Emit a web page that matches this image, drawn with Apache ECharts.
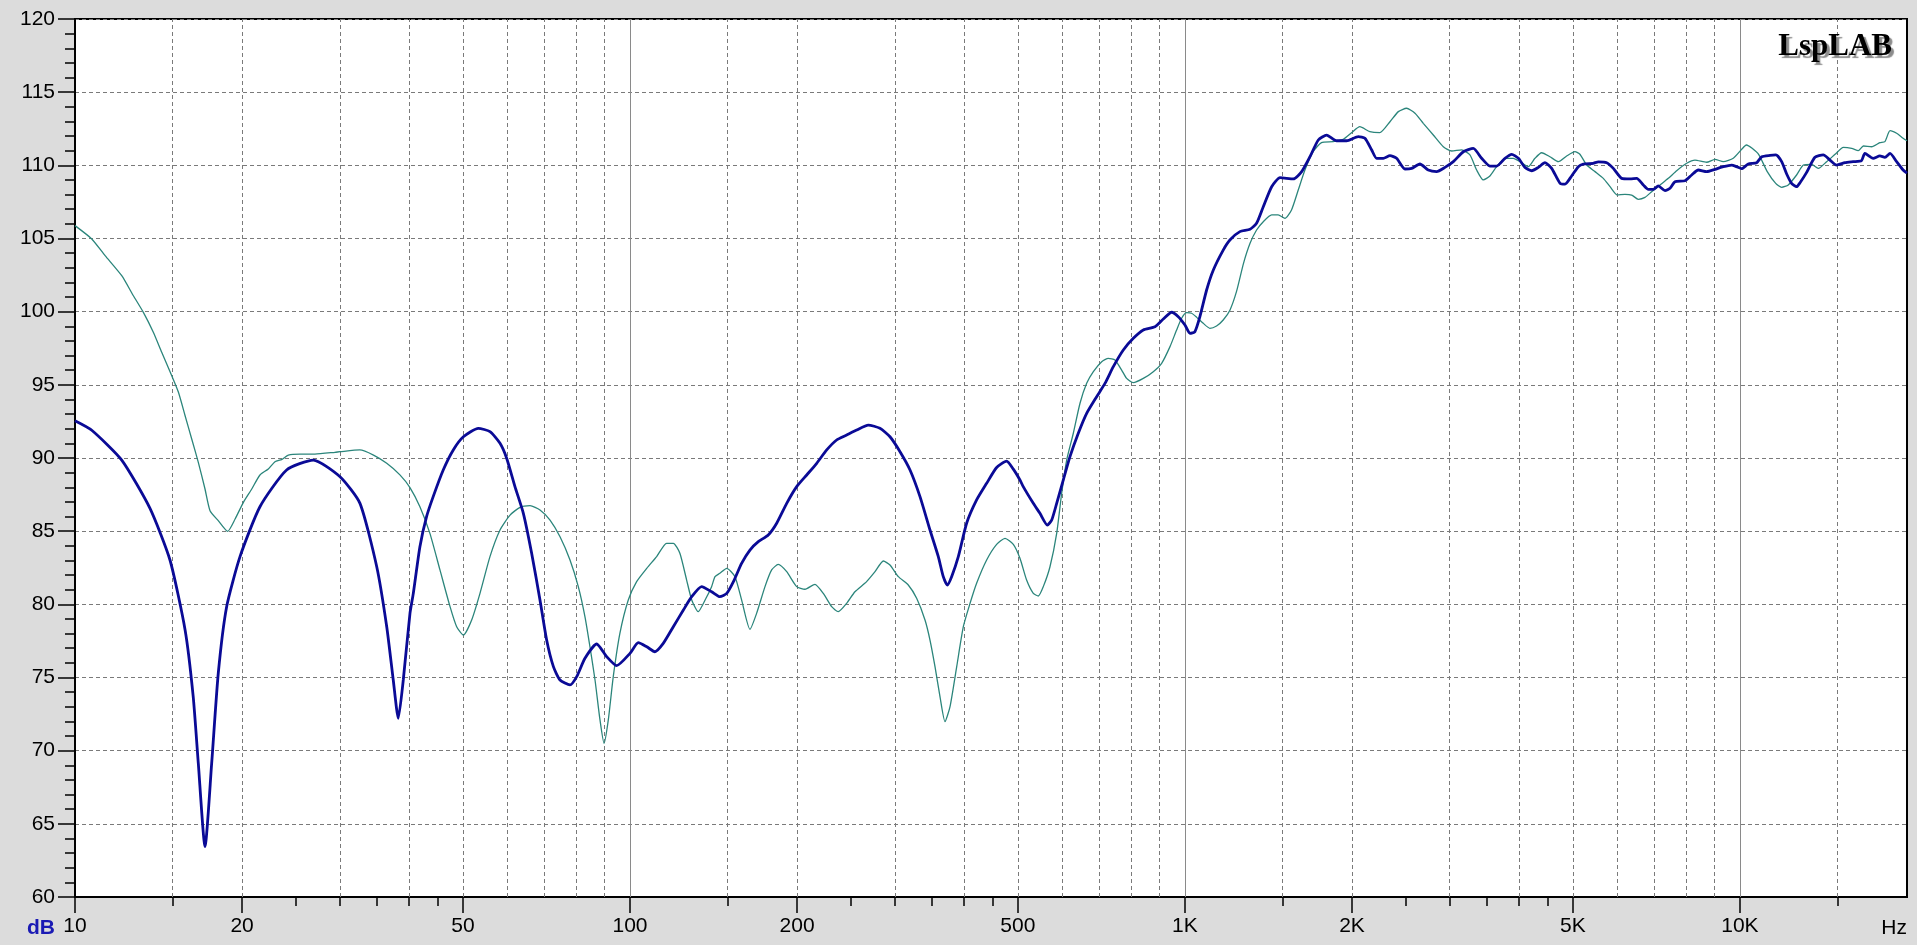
<!DOCTYPE html>
<html>
<head>
<meta charset="utf-8">
<script src="https://cdn.jsdelivr.net/npm/echarts@6/dist/echarts.min.js"></script>
<style>
html,body{margin:0;padding:0;background:#dcdcdc;}
#chart{width:1917px;height:945px;}
</style>
</head>
<body>
<div id="chart"></div>
<script>
// ---- Data (frequency in Hz, level in dB) ----
const blueFreq = [10,10.72,12.14,13.65,14.83,15.79,16.33,16.68,17.15,17.63,18.12,18.76,19.83,21.54,24.06,26.88,30.03,32.62,34.97,36.45,37.45,38.24,39.04,40.14,40.7,41.83,43.0,44.2,46.08,48.04,50.1,53.3,55.94,58.32,59.95,62.05,64.25,66.5,68.84,70.77,72.78,74.81,77.97,80.17,82.97,87.1,90.8,94.6,100,103.5,107.2,110.9,114.8,119.7,124.8,129.2,134.6,140.3,145.2,149.4,153.6,158.9,164.5,170.3,177.5,183.8,191.6,199.7,208.2,217,226.2,235.7,245.7,256.1,268.8,282.1,294.1,306.6,319.6,333.1,347.2,359.4,366.9,373.1,379.8,390.5,404.2,421.3,439.2,457.8,477.2,490.6,504.3,511.2,533,547.9,564.9,575.3,587.3,603.7,620.6,642.4,665.1,693.2,717.6,742.9,774.3,807.1,841.3,883.1,914.1,946.2,972.7,1000,1021,1042,1064,1094,1125,1172,1205,1256,1310,1346,1384,1433,1484,1568,1623,1680,1739,1800,1876,1956,2053,2110,2170,2215,2277,2341,2406,2491,2561,2651,2744,2841,2941,3045,3174,3308,3424,3544,3644,3773,3879,3988,4099,4215,4332,4454,4579,4741,4840,4974,5114,5221,5442,5556,5753,5914,6122,6337,6515,6697,6837,6981,7127,7328,7482,7638,7962,8185,8414,8710,9016,9333,9662,9861,10070,10350,10720,10950,11330,11610,11890,12140,12390,12650,12830,13180,13650,14130,14530,14930,15460,16000,16560,16790,17380,17870,18250,18640,19160,19680,20000];
const blueDb = [92.55,91.9,89.86,86.56,83.03,78.25,73.69,69.13,63.44,69.13,75.29,79.84,83.26,86.67,89.18,89.86,88.72,86.9,82.57,78.47,74.83,72.21,74.83,79.38,80.75,83.94,85.99,87.36,89.18,90.55,91.45,92.03,91.8,91.0,89.98,88.04,86.22,83.49,80.3,77.56,75.74,74.83,74.49,75.06,76.31,77.29,76.42,75.81,76.65,77.38,77.1,76.76,77.33,78.47,79.61,80.52,81.21,80.86,80.52,80.75,81.55,82.8,83.71,84.28,84.74,85.54,86.9,88.04,88.84,89.64,90.55,91.23,91.57,91.91,92.25,92.03,91.45,90.43,89.18,87.36,85.08,83.26,81.89,81.32,81.89,83.26,85.54,87.13,88.27,89.35,89.79,89.24,88.5,88.04,86.9,86.22,85.42,85.76,86.9,88.5,90.09,91.69,93.05,94.19,95.1,96.24,97.38,98.18,98.75,98.97,99.5,99.96,99.66,99.09,98.52,98.63,99.66,101.48,102.85,104.21,104.9,105.47,105.63,106.04,107.17,108.54,109.16,109.07,109.57,110.59,111.73,112.07,111.68,111.68,111.96,111.85,111.05,110.48,110.48,110.66,110.48,109.75,109.79,110.09,109.68,109.57,109.86,110.25,110.93,111.16,110.48,109.95,109.95,110.48,110.75,110.48,109.86,109.63,109.86,110.18,109.79,108.77,108.72,109.27,109.91,110.09,110.14,110.23,110.18,109.79,109.11,109.07,109.11,108.66,108.36,108.36,108.59,108.27,108.43,108.88,108.95,109.34,109.68,109.57,109.73,109.91,110.02,109.91,109.77,110.09,110.18,110.59,110.68,110.71,110.25,109.41,108.77,108.54,108.81,109.5,110.55,110.71,110.36,110.02,110.18,110.25,110.32,110.82,110.48,110.64,110.55,110.82,110.25,109.68,109.46];

const tealFreq = [10,10.72,11.33,12.14,12.74,13.28,13.84,14.33,14.94,15.36,15.79,16.23,16.68,17.15,17.51,18.12,18.84,19.43,20.11,20.82,21.54,22.3,22.93,23.57,24.23,25.43,27.06,29.41,30.03,32.6,34.5,36.45,38.5,40.14,41.83,43.6,45.46,47.4,48.72,50.1,51.85,53.67,55.94,58.32,60.8,63.38,66.06,68.84,71.77,74.81,77.97,80.7,82.97,84.7,86.5,88.3,89.8,91.4,93.3,95.9,99.3,102.8,107.2,111.7,116.4,119.7,123.0,126.5,129.2,132.7,137,140.3,142.3,145.2,149.4,154.6,158.9,164.5,169.1,175.1,180,185,191.6,199.7,206.7,215.4,223,230.9,237.3,245.7,254.3,266.9,276.4,286.1,294.1,304.5,317.3,328.5,340.1,347.2,354.5,361.9,369.5,377.3,387.9,398.7,410,421.3,439.2,457.8,474,490.6,504.3,518.4,533,544.2,555.6,571.2,587.3,599.6,612.2,629.3,647,665.1,683.8,707.9,727.7,748,769,785.1,807.1,841.3,876.9,907.8,939.8,966,986.3,1007,1028,1050,1079,1109,1140,1172,1205,1239,1275,1310,1346,1384,1433,1472,1514,1556,1600,1645,1702,1762,1849,1928,1996,2066,2153,2244,2341,2424,2508,2597,2688,2802,2921,3024,3151,3262,3354,3448,3544,3644,3773,3906,4015,4156,4272,4392,4546,4708,4873,5044,5148,5295,5481,5673,5834,6012,6207,6381,6560,6744,6934,7178,7430,7691,8017,8299,8710,9016,9333,9727,10070,10270,10520,10820,11200,11600,11890,12220,12650,13010,13460,13840,14330,14840,15360,15900,16340,16690,17270,17870,18250,18640,19160,19680,20000];
const tealDb = [105.88,104.97,103.83,102.46,101.09,99.95,98.59,97.22,95.62,94.49,92.89,91.3,89.7,87.88,86.4,85.72,84.99,85.83,86.97,87.88,88.84,89.25,89.75,89.89,90.2,90.27,90.27,90.39,90.43,90.55,90.2,89.64,88.85,87.98,86.67,84.85,82.35,79.84,78.47,77.9,78.93,80.75,83.26,85.08,86.1,86.63,86.74,86.45,85.76,84.62,83.03,81.21,79.15,77.1,74.83,72.1,70.5,72.1,75.06,78.02,80.3,81.55,82.46,83.26,84.17,84.17,83.49,81.66,80.3,79.5,80.4,81.21,81.89,82.12,82.46,81.89,80.3,78.29,79.38,81.21,82.35,82.73,82.23,81.21,81.03,81.37,80.75,79.84,79.5,80.07,80.86,81.55,82.23,82.96,82.69,81.89,81.32,80.41,78.93,77.56,75.74,73.69,71.98,73.01,75.74,78.47,80.07,81.44,83.03,84.1,84.51,84.1,83.15,81.66,80.75,80.57,81.21,82.57,84.85,87.59,89.86,91.69,93.74,95.1,95.9,96.58,96.81,96.7,96.01,95.44,95.15,95.44,95.9,96.47,97.61,98.75,99.55,99.93,99.89,99.61,99.2,98.86,99.02,99.43,100.1,101.4,103.3,104.67,105.58,106.15,106.61,106.61,106.38,106.95,108.31,109.68,110.93,111.55,111.62,111.78,112.23,112.64,112.3,112.23,112.98,113.67,113.9,113.56,112.87,112.07,111.27,110.98,111.05,110.71,109.68,109.0,109.27,109.91,110.48,110.48,110.25,109.91,110.48,110.86,110.59,110.25,110.64,110.93,110.76,110.02,109.57,109.11,108.54,107.97,108.02,107.97,107.68,107.81,108.2,108.66,109.11,109.63,110.14,110.36,110.21,110.41,110.25,110.48,111.09,111.39,111.16,110.71,109.57,108.77,108.5,108.66,109.34,110.02,110.07,109.79,110.25,110.75,111.23,111.16,111.0,111.32,111.27,111.55,111.62,112.37,112.19,111.85,111.68];

// ---- Axis tick / grid values ----
const yTicks = {min: 60, max: 120, step: 5};
const freqLabelTicks = [10,20,50,100,200,500,1000,2000,5000,10000];
const freqMinorTicks = [15,25,30,35,40,45,150,250,300,350,400,450,1500,2500,3000,3500,4000,4500,15000];
const freqGridDashed = [15,20,30,40,50,60,70,80,90,150,200,300,400,500,600,700,800,900,1500,2000,3000,4000,5000,6000,7000,8000,9000,15000];
const freqGridSolid = [100,1000,10000];

const zip = (xs, ys) => xs.map((x, i) => [x, ys[i]]);

const FONT = '"Liberation Sans", Arial, sans-serif';
const GRID_TOP = 19, GRID_BOTTOM = 48, GRID_H = 945 - GRID_TOP - GRID_BOTTOM;

const baseLog = {
  type: 'log', logBase: 10, min: 10, max: 20000, gridIndex: 0, position: 'bottom',
  axisLine: {show: false}, axisLabel: {show: false}, splitLine: {show: false},
  minorTick: {show: false}, minorSplitLine: {show: false}
};

const chart = echarts.init(document.getElementById('chart'), null, {renderer: 'canvas'});
chart.setOption({
  animation: false,
  backgroundColor: '#dcdcdc',
  grid: {
    left: 75, right: 10, top: GRID_TOP, bottom: GRID_BOTTOM,
    show: true, backgroundColor: '#ffffff', borderColor: '#000000', borderWidth: 2,
    containLabel: false, outerBoundsMode: 'none'
  },
  xAxis: [
    Object.assign({}, baseLog, {
      axisLine: {show: true, lineStyle: {color: '#000', width: 2}},
      axisTick: {show: true, customValues: freqLabelTicks, length: 16, inside: false,
        lineStyle: {color: '#000', width: 1.5}},
      axisLabel: {show: true, customValues: freqLabelTicks, margin: 19,
        fontFamily: FONT, fontSize: 21, color: '#000',
        formatter: v => (v >= 1000 ? (v / 1000) + 'K' : String(v))}
    }),
    Object.assign({}, baseLog, {
      axisTick: {show: true, customValues: freqMinorTicks, length: 9, inside: false,
        lineStyle: {color: '#000', width: 1.5}}
    }),
    Object.assign({}, baseLog, {
      axisTick: {show: true, customValues: freqGridDashed, length: GRID_H, inside: true,
        lineStyle: {color: '#7a7a7a', width: 1, type: [4, 3]}}
    }),
    Object.assign({}, baseLog, {
      axisTick: {show: true, customValues: freqGridSolid, length: GRID_H, inside: true,
        lineStyle: {color: '#8a8a8a', width: 1, type: 'solid'}}
    })
  ],
  yAxis: {
    type: 'value', min: yTicks.min, max: yTicks.max, interval: yTicks.step,
    axisLine: {show: true, lineStyle: {color: '#000', width: 2}},
    axisTick: {show: true, length: 17, inside: false, lineStyle: {color: '#000', width: 1.5}},
    minorTick: {show: true, splitNumber: 5, length: 10, lineStyle: {color: '#000', width: 1.5}},
    axisLabel: {margin: 20, fontFamily: FONT, fontSize: 21, color: '#000'},
    splitLine: {show: true, lineStyle: {color: '#7a7a7a', width: 1, type: [4, 3]}}
  },
  series: [
    {
      name: 'teal', type: 'line', xAxisIndex: 0, yAxisIndex: 0,
      data: zip(tealFreq, tealDb), showSymbol: false, symbol: 'none',
      smooth: 0.2,
      lineStyle: {color: '#2b857b', width: 1.3}, z: 3
    },
    {
      name: 'blue', type: 'line', xAxisIndex: 0, yAxisIndex: 0,
      data: zip(blueFreq, blueDb), showSymbol: false, symbol: 'none',
      smooth: 0.2,
      lineStyle: {color: '#0a0a96', width: 2.8}, z: 4
    }
  ],
  graphic: [
    {type: 'text', right: 1917 - 1892, top: 31, z: 10,
      style: {text: 'LspLAB', font: 'bold 31px "Liberation Serif", "Times New Roman", serif',
        fill: '#000', textShadowColor: '#8c8c8c', textShadowOffsetX: 3, textShadowOffsetY: 3, textShadowBlur: 1}},
    {type: 'text', x: 55, y: 928, z: 10,
      style: {text: 'dB', font: 'bold 21px ' + FONT, fill: '#1a1ab4', align: 'right', verticalAlign: 'middle'}},
    {type: 'text', x: 1907, y: 928, z: 10,
      style: {text: 'Hz', font: '21px ' + FONT, fill: '#000', align: 'right', verticalAlign: 'middle'}}
  ]
});
</script>
</body>
</html>
